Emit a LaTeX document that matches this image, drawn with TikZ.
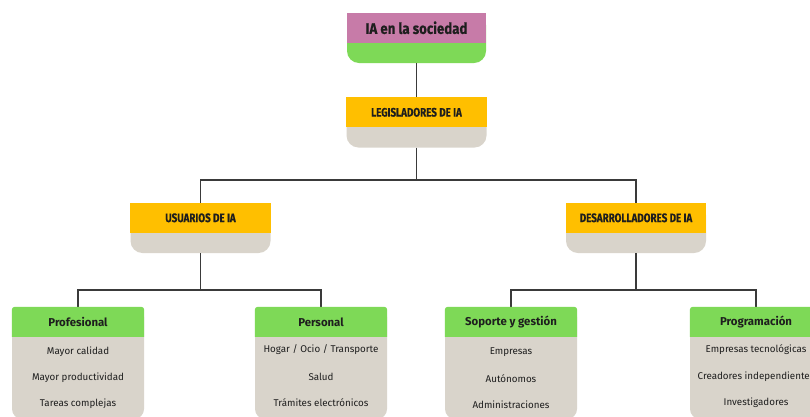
\documentclass[tikz,border=0pt]{standalone}
\usepackage{fontspec}
\setmainfont{Fira Sans}
\newfontfamily\titlefont[FakeStretch=0.86, BoldFeatures={FakeBold=0.5}]{Fira Sans}
\newfontfamily\capsfont[FakeStretch=0.80, BoldFeatures={FakeBold=0.3}]{Fira Sans}
\definecolor{mauve}{HTML}{C77BA8}
\definecolor{lime}{HTML}{7ED957}
\definecolor{amber}{HTML}{FFBF00}
\definecolor{paper}{HTML}{D9D4CB}
\definecolor{ink}{HTML}{1E1E1E}
\definecolor{wire}{HTML}{3A3A3A}

\tikzset{
  tier/.style={rectangle, rounded corners=12pt, inner sep=0pt, fill=paper},
  midtier/.style={tier, minimum width=140pt, minimum height=50pt},
  leaf/.style={rectangle, rounded corners=10pt, inner sep=0pt, fill=paper,
    minimum width=132pt, minimum height=112pt},
  titletext/.style={inner sep=0pt, text=ink, font=\titlefont\bfseries\fontsize{15.4}{17}\selectfont},
  capstext/.style={inner sep=0pt, text=ink, font=\capsfont\bfseries\fontsize{12.3}{14}\selectfont},
  headtext/.style={inner sep=0pt, text=ink, font=\bfseries\fontsize{11.4}{13}\selectfont},
  itemtext/.style={inner sep=0pt, text=ink, font=\fontsize{9.8}{11}\selectfont},
  link/.style={draw=wire, line width=1.1pt},
}

\begin{document}
\begin{tikzpicture}[x=1pt,y=-1pt]
\useasboundingbox (0,0) rectangle (810,416);
\fill[white] (0,0) rectangle (810,416);
\clip (0,0) rectangle (810,416);

% ---- box bodies
\node[midtier, fill=lime, minimum width=139pt] (soc) at (416.5,38) {};
\node[midtier] (leg) at (416.5,122.5) {};
\node[midtier] (usr) at (200.5,228) {};
\node[midtier] (dev) at (636,228) {};
\node[leaf] (pro) at (78,363) {};
\node[leaf] (per) at (321,363) {};
\node[leaf] (sop) at (511,363) {};
\node[leaf] (prg) at (756,363) {};

\coordinate (j1) at (416.5,180);
\coordinate (j2) at (200.5,290);
\coordinate (j3) at (636,290);

% ---- connectors
\draw[link] (soc.south) -- (leg.north);
\draw[link] (leg.south) -- (j1);
\draw[link] (usr.north) |- (j1) -| (dev.north);
\draw[link] (usr.south) -- (j2);
\draw[link] (pro.north) |- (j2) -| (per.north);
\draw[link] (dev.south) -- (j3);
\draw[link] (sop.north) |- (j3) -| (prg.north);

% ---- coloured top bands
\fill[mauve] (soc.north west) rectangle ([yshift=-30pt]soc.north east);
\foreach \b in {leg,usr,dev}
  \fill[amber] (\b.north west) rectangle ([yshift=-30pt]\b.north east);
\foreach \b in {pro,per,sop,prg}
  \fill[lime, rounded corners=3pt] ([yshift=-30pt]\b.north west) -- (\b.north west)
     -- (\b.north east) [sharp corners] -- ([yshift=-30pt]\b.north east) -- cycle;

% ---- labels
\node[titletext] (soc-t) at ([yshift=-15pt]soc.north) {IA en la sociedad};
\node[capstext] (leg-t) at ([yshift=-15pt]leg.north) {LEGISLADORES DE IA};
\node[capstext] (usr-t) at ([yshift=-15pt]usr.north) {USUARIOS DE IA};
\node[capstext] (dev-t) at ([yshift=-15pt]dev.north) {DESARROLLADORES DE IA};

\node[headtext] (pro-t) at ([yshift=-15pt]pro.north) {Profesional};
\node[itemtext] (pro-1) at (78,352) {Mayor calidad};
\node[itemtext] (pro-2) at (78,378) {Mayor productividad};
\node[itemtext] (pro-3) at (78,404) {Tareas complejas};

\node[headtext] (per-t) at ([yshift=-15pt]per.north) {Personal};
\node[itemtext] (per-1) at (321,350) {Hogar / Ocio / Transporte};
\node[itemtext] (per-2) at (321,377) {Salud};
\node[itemtext] (per-3) at (321,403) {Trámites electrónicos};

\node[headtext] (sop-t) at ([yshift=-15pt]sop.north) {Soporte y gestión};
\node[itemtext] (sop-1) at (511,352) {Empresas};
\node[itemtext] (sop-2) at (511,379) {Autónomos};
\node[itemtext] (sop-3) at (511,405) {Administraciones};

\node[headtext] (prg-t) at ([yshift=-15pt]prg.north) {Programación};
\node[itemtext] (prg-1) at (756,350) {Empresas tecnológicas};
\node[itemtext] (prg-2) at (756,377) {Creadores independientes};
\node[itemtext] (prg-3) at (756,403) {Investigadores};
\end{tikzpicture}
\end{document}
